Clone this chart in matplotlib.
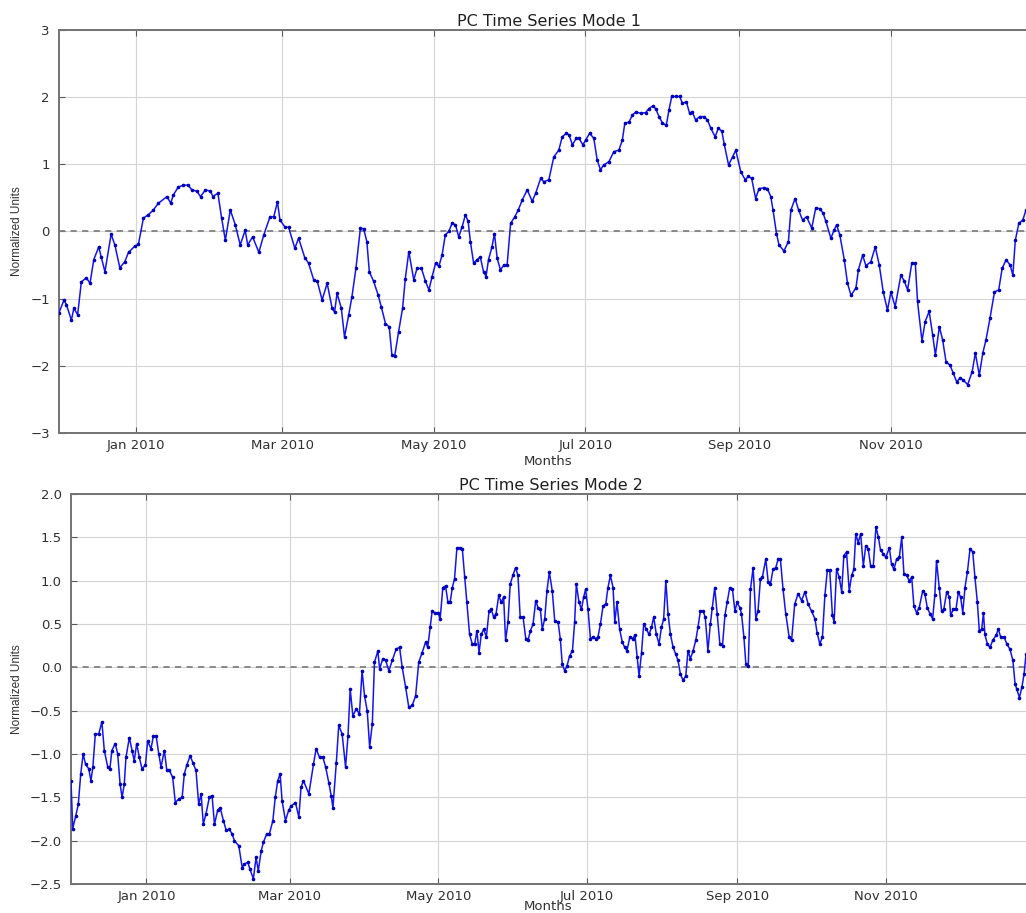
import numpy as np
import pandas as pd
import matplotlib
matplotlib.use("Agg")
import matplotlib.pyplot as plt
import matplotlib.dates as mdates

# ---------------- data (day offsets from 2009-12-01, normalized units) ----------------
start_date = "2009-12-01"

days1 = [0, 2, 3, 5, 6, 7.5, 9, 11, 12.5, 14, 16, 17, 18.5, 21, 22.5, 24.5, 26.5, 28, 30.5, 32,
         34, 36, 38, 40, 43.5, 45, 46, 48, 50, 52, 53.5, 55.5, 57, 59, 61, 62, 64, 65.5, 67, 69,
         71, 73, 75, 76, 78, 80.5, 82.5, 85, 86.5, 88, 89, 91, 92.5, 95, 96.5, 99,
         100.5, 102.6, 104, 106, 108, 110, 111, 112, 113.7, 115, 116.7, 118, 119.6, 121.4, 122.7,
         124, 125, 126.7, 128.5, 129.8, 131.5, 133, 134.1, 135.2, 136.8, 138.4, 139.5, 140.9,
         142.9, 144.2, 146, 147.6, 149, 150.3, 151.7, 153, 154.3, 155.6, 157, 158.3, 159.7, 161,
         162.4, 163.7, 164.8, 165.7, 167, 168.4, 169.7, 171, 172, 173, 174.4, 175.4, 176.5,
         177.8, 179.2, 180.5, 181.9, 183.6, 185, 186.6, 188.6, 190.6, 192, 194, 195.3,
         197.3, 199.3, 201.3, 202.7, 204.3, 205.4, 206.8, 208.4, 209.4, 211, 212.1, 213.7, 215.4,
         216.8, 218.1, 219.4, 221.5, 223.5, 225.5, 226.9, 227.9, 229.6, 230.9, 232.3, 234.3,
         236.3, 237.6, 239.2, 240.3, 241.7, 243, 244.6, 245.7, 246.8, 248.4, 250, 251.1, 252.7,
         254, 255.1, 256.4, 258.1, 259.8, 261.2, 262.5, 264.3, 265.6, 267, 267.9, 269.7, 271.3,
         272.6, 274.6, 276.4, 277.7, 279, 280.6, 282, 284, 285.3, 286.7, 287.6, 289, 290, 292,
         293.8, 294.8, 296.5, 297.9, 299.5, 301.1, 303.2, 304.8, 306.5, 307.8, 308.9, 310.9,
         312.2, 313.2, 314.5, 316.3, 317.6, 319, 321, 322, 323.7, 325, 327, 328.8, 330.4, 332,
         333.7, 335.1, 336.8, 339.1, 340.5, 341.8, 343.5, 344.9, 345.8, 347.6, 348.9, 350.5,
         351.9, 353, 354.6, 355.9, 357.3, 358.9, 360.2, 361.6, 362.9, 364.2, 366, 367.8, 369.1,
         370.7, 372.1, 373.4, 375, 376.8, 378.5, 379.9, 381.5, 383.1, 384.2, 385.2, 386.6,
         388.2, 389.5]
pc1 = [-1.21, -1.02, -1.09, -1.32, -1.14, -1.24, -0.75, -0.69, -0.77, -0.42, -0.23, -0.38, -0.60,
       -0.04, -0.20, -0.54, -0.45, -0.31, -0.22, -0.19, 0.20, 0.25, 0.32, 0.42, 0.52, 0.42, 0.54,
       0.66, 0.69, 0.69, 0.62, 0.60, 0.52, 0.62, 0.60, 0.52, 0.57, 0.20, -0.13, 0.32, 0.10, -0.20,
       0.02, -0.20, -0.08, -0.31, -0.05, 0.22, 0.22, 0.44, 0.17, 0.07, 0.06, -0.25, -0.10, -0.39,
       -0.47, -0.72, -0.74, -1.02, -0.77, -1.14, -1.20, -0.92, -1.14, -1.57, -1.24, -0.97, -0.55,
       0.05, 0.04, -0.15, -0.60, -0.74, -0.94, -1.12, -1.37, -1.42, -1.84, -1.86, -1.49, -1.14,
       -0.70, -0.30, -0.72, -0.55, -0.55, -0.74, -0.87, -0.67, -0.47, -0.52, -0.35, -0.05, 0.00,
       0.12, 0.10, -0.08, 0.07, 0.25, 0.15, -0.15, -0.47, -0.42, -0.38, -0.60, -0.67, -0.42,
       -0.23, -0.03, -0.40, -0.57, -0.50, -0.50, 0.12, 0.22, 0.32, 0.47, 0.62, 0.45, 0.57, 0.79,
       0.74,
       0.77, 1.11, 1.21, 1.41, 1.46, 1.44, 1.29, 1.39, 1.39, 1.29, 1.36, 1.46, 1.39, 1.06, 0.92,
       0.99, 1.04, 1.19, 1.21, 1.36, 1.61, 1.63, 1.73, 1.78, 1.76, 1.77, 1.83, 1.87, 1.83, 1.71,
       1.62, 1.58, 1.81, 2.01, 2.01, 2.01, 1.91, 1.93, 1.76, 1.78, 1.66, 1.71, 1.71, 1.66, 1.54,
       1.41, 1.54, 1.49, 1.31, 0.99, 1.11, 1.21, 0.89, 0.77, 0.82, 0.79, 0.49, 0.64, 0.65, 0.64,
       0.52, 0.32, -0.03, -0.20, -0.29,
       -0.15, 0.32, 0.49, 0.32, 0.17, 0.22, 0.05, 0.35, 0.34, 0.27, 0.15, -0.10, 0.02, 0.10,
       -0.05, -0.42, -0.77, -0.95, -0.84, -0.57, -0.35, -0.51, -0.45, -0.23, -0.50, -0.90, -1.17,
       -0.90, -1.12, -0.65, -0.74, -0.87, -0.47, -0.47, -1.04, -1.63, -1.34, -1.19, -1.54, -1.84,
       -1.42, -1.61, -1.94, -1.99, -2.11, -2.24, -2.18, -2.21, -2.28, -2.09, -1.81, -2.14, -1.81,
       -1.61, -1.29, -0.90, -0.87, -0.55, -0.42, -0.50, -0.65, -0.13, 0.12, 0.17, 0.32]

days2 = [0, 0.7, 2, 3, 4, 5, 6, 7.3, 8.2, 9, 10, 11.4, 12.7, 13.7, 15.1, 16, 16.8, 18.2, 19.2,
         20.2, 21, 21.9, 22.6, 24, 25.1, 26, 27, 28.1, 29.2, 30.6, 31.5, 32.9, 33.9, 35, 36.1, 37,
         38.4, 39.4, 40.5, 41.8, 42.9, 44.3, 45.7, 46.6, 47.6, 49, 50.1, 51.4, 52.5, 53.5, 54.4,
         55.5, 56.9, 58, 59, 60.3, 61.3, 62.7, 63.8, 65.1, 66.2, 67.2, 69, 70.4, 71.3, 72.7, 73.6,
         75, 76.1, 77, 78.2, 79.1, 80.5, 81.6, 83, 84, 85, 86, 86.8, 88.2, 89.5, 90.5, 92.3, 93.7,
         94.6, 95.6, 97.8, 99.7, 100.8, 102.2, 103.6, 104.7, 106, 107, 107.7, 109.1, 110.1,
         111.5, 112.9, 113.9, 114.8, 115.9, 117.3, 118.6, 119.7, 120.7, 121.8, 122.8, 123.9,
         124.8, 126.2, 126.9, 128.2, 129.4, 130.7, 132.1, 133.7, 135.1, 136.2, 137.6, 138.9,
         140.3, 141.7, 143, 144.4, 145.8, 146.7, 147.7, 148.5, 149.5, 150.9, 151.8, 152.9, 154,
         155, 155.9, 156.8, 157.7, 158.7, 159.8, 160.9, 161.9, 162.8, 163.9, 165, 166, 166.9,
         167.8, 168.7, 169.7, 170.8, 171.9, 172.8, 173.8, 174.8, 175.9, 176.9, 177.9, 178.7,
         179.7, 180.6, 181.7, 182.8, 183.8, 184.7, 185.9, 187, 187.9, 188.9, 190, 191.1, 192, 193,
         193.8, 194.8, 195.7, 196.7, 197.9, 198.9, 200.3, 201.2, 202, 203, 204, 205, 206.2, 207.1,
         207.8, 208.9, 209.9, 210.8, 211.6, 212.6, 213.6, 214.7, 215.8, 216.7, 217.7, 218.8,
         219.9, 220.8, 221.8, 222.9, 223.6, 224.5, 225.6, 226.7, 227.7, 228.6, 229.8, 230.9,
         231.9, 232.8, 233.6, 234.6, 235.5, 236.6, 237.7, 238.7, 239.6, 240.7, 241.8, 242.8,
         243.7, 244.6, 245.5, 246.5, 247.6, 248.7, 249.6, 250.6, 251.7, 252.8, 253.7, 254.7,
         255.8, 256.9, 257.8, 258.8, 259.9, 260.8, 261.9, 262.9, 263.7, 264.7, 265.7, 266.8,
         267.9, 268.9, 269.8, 270.9, 272, 273, 273.9, 275, 275.7, 276.7, 277.5, 278.5, 279.4,
         280.5, 281.6, 282.5, 283.5, 284.3, 285.7, 286.7, 287.6, 288.7, 289.8, 290.8, 291.7,
         292.8, 293.9, 295.3, 296.3, 297.6, 299, 300.4, 301.8, 303.1, 304.5, 305.9, 306.8, 307.9,
         309, 310, 311, 312, 313.1, 313.8, 314.8, 315.9, 316.9, 317.8, 318.9, 320, 321, 321.9,
         322.7, 323.7, 324.7, 325.8, 326.8, 327.8, 328.8, 329.9, 331, 332, 332.9, 334, 335.1,
         336.5, 337.4, 338.4, 339.5, 340.6, 341.6, 342.5, 343.6, 344.7, 345.7, 346.6, 347.7,
         348.8, 350.2, 351.1, 352.1, 353.2, 354.3, 355.2, 355.9, 357, 358, 358.9, 360.1, 361.2,
         361.7, 362.8, 363.9, 364.9, 365.8, 366.7, 367.6, 368.6, 369.7, 370.8, 371.7, 372.7,
         373.5, 374.5, 375.2, 375.8, 376.8, 377.9, 379, 380.4, 381.3, 382.3, 383.7, 384.8, 386.1,
         387.3, 388.2, 388.9, 390, 391, 391.9, 392.7]
pc2 = [-1.31, -1.86, -1.71, -1.58, -1.23, -1.00, -1.12, -1.17, -1.31, -1.15, -0.77, -0.77, -0.63,
       -0.96, -1.15, -1.17, -0.96, -0.88, -1.00, -1.35, -1.50, -1.35, -1.04, -0.81, -0.96, -1.08,
       -0.88, -1.04, -1.17, -1.13, -0.85, -0.94, -0.79, -0.79, -1.00, -1.15, -0.96, -1.19, -1.19,
       -1.27, -1.56, -1.52, -1.50, -1.23, -1.13, -1.02, -1.10, -1.19, -1.58, -1.46, -1.81, -1.69,
       -1.50, -1.48, -1.81, -1.65, -1.62, -1.77, -1.88, -1.87, -1.92, -2.00, -2.06, -2.31, -2.27,
       -2.25, -2.33, -2.44, -2.19, -2.35, -2.12, -2.02, -1.92, -1.92, -1.77, -1.50, -1.31, -1.23,
       -1.54, -1.77, -1.65, -1.60, -1.56, -1.73, -1.38, -1.31, -1.46, -1.12, -0.94, -1.04, -1.04,
       -1.15, -1.33, -1.48, -1.62, -1.10, -0.67, -0.77, -1.15, -0.79, -0.25, -0.56, -0.48, -0.54,
       -0.04, -0.33, -0.50, -0.92, -0.65, 0.06, 0.19, -0.02, 0.10, 0.08, -0.04, 0.08, 0.21, 0.23,
       0.00, -0.23, -0.46, -0.44, -0.33, 0.06, 0.17, 0.29, 0.23, 0.46, 0.65, 0.63, 0.63, 0.56,
       0.92, 0.94, 0.75, 0.75, 0.92, 1.02, 1.38, 1.38, 1.37, 1.04, 0.75, 0.38, 0.27, 0.27, 0.42,
       0.17, 0.38, 0.44, 0.35, 0.65, 0.67, 0.58, 0.62, 0.83, 0.75, 0.81, 0.31, 0.52, 0.96, 1.06,
       1.15, 1.06, 0.58, 0.58, 0.33, 0.31, 0.42, 0.50, 0.77, 0.69, 0.67, 0.44, 0.56, 0.88, 1.10,
       0.88, 0.54, 0.52, 0.33, 0.04, -0.04, 0.02, 0.13, 0.19, 0.52, 0.96, 0.75, 0.67, 0.81, 0.90,
       0.67, 0.33, 0.35, 0.33, 0.35, 0.50, 0.71, 0.73, 0.92, 1.06, 0.92, 0.52, 0.75, 0.44, 0.29,
       0.23, 0.19, 0.35, 0.33, 0.37, 0.12, -0.10, 0.17, 0.50, 0.44, 0.38, 0.46, 0.58, 0.38, 0.27,
       0.46, 0.56, 1.00, 0.62, 0.38, 0.23, 0.15, 0.08, -0.08, -0.15, -0.10, 0.19, 0.10, 0.19,
       0.31, 0.46, 0.65, 0.65, 0.58, 0.19, 0.50, 0.69, 0.92, 0.62, 0.27, 0.25, 0.60, 0.75, 0.92,
       0.90, 0.65, 0.75, 0.69, 0.62, 0.35, 0.04, 0.02, 0.90, 1.15, 0.56, 0.65, 1.02, 1.04, 1.25,
       0.98, 0.96, 1.13, 1.15, 1.25, 1.25, 0.90, 0.62, 0.35, 0.31, 0.73, 0.85, 0.77, 0.87, 0.73,
       0.65, 0.56, 0.40, 0.27, 0.35, 0.83, 1.12, 1.12, 0.60, 0.52, 1.13, 1.04, 0.87, 1.29, 1.33,
       0.88, 1.06, 1.13, 1.54, 1.44, 1.54, 1.17, 1.40, 1.37, 1.17, 1.17, 1.62, 1.50, 1.35, 1.31,
       1.27, 1.38, 1.19, 1.13, 1.25, 1.27, 1.50, 1.08, 1.06, 1.00, 1.04, 0.71, 0.63, 0.69, 0.88,
       0.85, 0.69, 0.62, 0.56, 0.83, 1.23, 0.92, 0.65, 0.67, 0.87, 0.81, 0.60, 0.67, 0.67, 0.87,
       0.81, 0.63, 0.92, 1.10, 1.37, 1.33, 1.04, 0.75, 0.42, 0.44, 0.63, 0.38, 0.27, 0.23, 0.31,
       0.37, 0.44, 0.35, 0.35, 0.27, 0.21, 0.08, -0.19, -0.25, -0.35, -0.23, -0.08, 0.15]

titles = ["PC Time Series Mode 1", "PC Time Series Mode 2"]
ylims = [(-3, 3), (-2.5, 2.0)]
ytick_steps = [1.0, 0.5]
xend_days = [389.5, 392.7]

# ---------------- plotting ----------------
plt.rcParams["font.family"] = ["DejaVu Sans"]
W, H = 1026, 913
fig = plt.figure(figsize=(W / 100, H / 100), dpi=100)

t0 = pd.Timestamp(start_date)
rects = [
    [59 / W, 1 - 433 / H, (W - 59) / W, (433 - 30) / H],
    [71 / W, 1 - 884 / H, (W - 71) / W, (884 - 494) / H],
]
title_x = [0.507, 0.503]
ylab_x = [-0.0372, -0.0503]
xlab_pos = [(0.5057, -0.055), (0.4995, -0.042)]

series = [(days1, pc1), (days2, pc2)]
for i in range(2):
    ax = fig.add_axes(rects[i])
    d, v = series[i]
    dates = t0 + pd.to_timedelta(np.asarray(d, dtype=float), unit="D")
    ax.plot(dates, v, color="#1414f0", lw=1.1, marker="o", ms=1.6,
            mfc="#0000bb", mec="#0000bb", zorder=3)
    ax.axhline(0, color="0.5", ls="--", lw=1.3, dashes=(3.4, 3.0), zorder=2)

    ax.set_xlim(t0, t0 + pd.to_timedelta(xend_days[i], unit="D"))
    lo, hi = ylims[i]
    ax.set_ylim(lo, hi)
    ax.set_yticks(np.arange(lo, hi + 1e-9, ytick_steps[i]))
    ax.xaxis.set_major_locator(mdates.MonthLocator(bymonth=[1, 3, 5, 7, 9, 11]))
    ax.xaxis.set_major_formatter(mdates.DateFormatter("%b %Y"))

    ax.grid(True, color="0.83", ls="-", lw=0.8, zorder=0)
    for s in ["left", "top", "bottom"]:
        ax.spines[s].set_color("0.45")
        ax.spines[s].set_linewidth(1.4)
    ax.spines["right"].set_visible(False)
    ax.tick_params(axis="both", direction="in", length=4, width=0.8, color="0.35",
                   labelsize=9.5, labelcolor="#303030", top=True, right=False)
    ax.tick_params(axis="y", pad=6.5)
    ax.tick_params(axis="x", pad=4.5)

    ax.set_title(titles[i], fontsize=11.5, color="#202020", pad=3, x=title_x[i])
    ax.set_ylabel("Normalized Units", fontsize=8.5, family=["Liberation Sans", "DejaVu Sans"],
                  color="#303030")
    ax.yaxis.set_label_coords(ylab_x[i], 0.5)
    ax.set_xlabel("Months", fontsize=9.5, color="#303030")
    ax.xaxis.set_label_coords(*xlab_pos[i])

fig.savefig("out.png", dpi=100)
